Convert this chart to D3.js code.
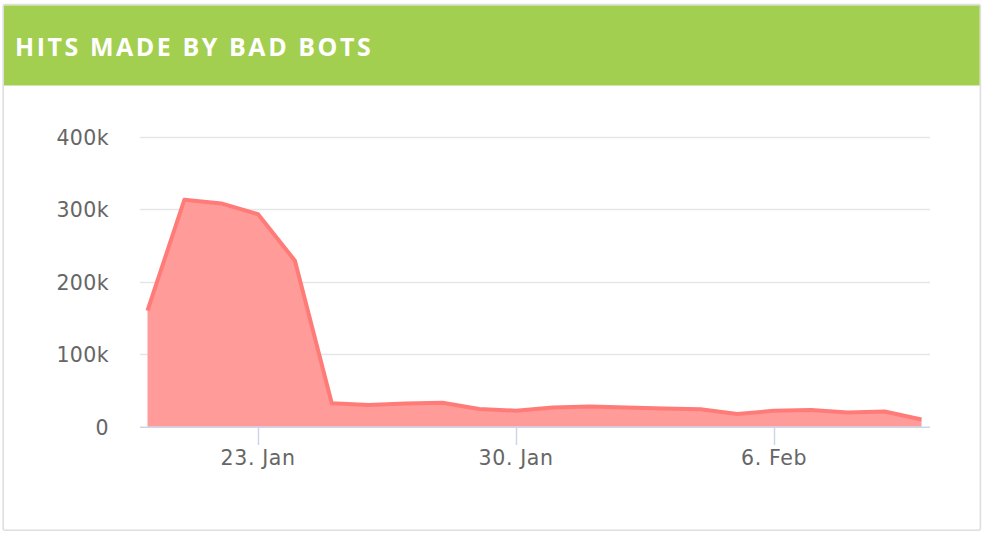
<!DOCTYPE html>
<html>
<head>
<meta charset="utf-8">
<script src="https://cdn.jsdelivr.net/npm/d3@7"></script>
<style>
  html, body { margin: 0; padding: 0; background: #fff; }
  svg { display: block; }
</style>
</head>
<body>
<div id="chart"></div>
<script>
// one value per day, 20 Jan .. 10 Feb
var startDay = "2018-01-20";
var hits = [160000, 313000, 308000, 293000, 229000, 32500, 30000, 32000, 33000, 24500,
            22000, 26500, 28000, 26500, 25000, 24000, 17500, 22000, 23000, 19500, 21000, 10000];
var yTicks = [0, 100000, 200000, 300000, 400000];
var xTickDays = ["2018-01-23", "2018-01-30", "2018-02-06"];
var title = "HITS MADE BY BAD BOTS";

var W = 984, H = 533;
var parse = d3.timeParse("%Y-%m-%d");
var start = parse(startDay);
var data = hits.map(function(v, i) { return { date: d3.timeDay.offset(start, i), value: v }; });

var svg = d3.select("#chart").append("svg").attr("width", W).attr("height", H);

// card + header
svg.append("rect").attr("x", 3.2).attr("y", 4.6).attr("width", 977.2).attr("height", 525.6)
  .attr("rx", 2).attr("fill", "#fff").attr("stroke", "#dedede").attr("stroke-width", 1.6);
svg.append("rect").attr("x", 4).attr("y", 5.5).attr("width", 975.6).attr("height", 80)
  .attr("fill", "#a3cf50");
svg.append("text").attr("x", 15).attr("y", 56)
  .attr("fill", "#fff").attr("font-family", "'Open Sans', sans-serif").attr("font-weight", 700)
  .attr("font-size", 25).attr("letter-spacing", 2.55).text(title);

var x = d3.scaleTime().domain(d3.extent(data, function(d) { return d.date; })).range([147.5, 921.5]);
var y = d3.scaleLinear().domain([0, 400000]).range([426.7, 136.7]);
var plotL = 140, plotR = 930;

// grid
svg.append("g").selectAll("line").data(yTicks.slice(1)).join("line")
  .attr("x1", plotL).attr("x2", plotR)
  .attr("y1", function(d) { return Math.round(y(d)) + 0.5; })
  .attr("y2", function(d) { return Math.round(y(d)) + 0.5; })
  .attr("stroke", "#e6e6e6").attr("stroke-width", 1.5);

// y labels
svg.append("g").selectAll("text").data(yTicks).join("text")
  .attr("x", 109).attr("y", function(d) { return y(d) + 8; })
  .attr("text-anchor", "end").attr("fill", "#666")
  .attr("font-family", "'DejaVu Sans', sans-serif").attr("font-size", 20.5)
  .attr("letter-spacing", 0.4)
  .text(function(d) { return d === 0 ? "0" : (d / 1000) + "k"; });

// area + line
var area = d3.area().x(function(d) { return x(d.date); }).y0(y(0)).y1(function(d) { return y(d.value); });
var line = d3.line().x(function(d) { return x(d.date); }).y(function(d) { return y(d.value); });
svg.append("path").datum(data).attr("d", area).attr("fill", "#ff9c9a");
svg.append("path").datum(data).attr("d", line).attr("fill", "none")
  .attr("stroke", "#ff7b78").attr("stroke-width", 4).attr("stroke-linejoin", "round");

// x axis
svg.append("line").attr("x1", plotL).attr("x2", plotR).attr("y1", 427.3).attr("y2", 427.3)
  .attr("stroke", "#ccd6eb").attr("stroke-width", 1.5);
var xt = xTickDays.map(parse);
svg.append("g").selectAll("line").data(xt).join("line")
  .attr("x1", function(d) { return Math.round(x(d)) + 0.5; })
  .attr("x2", function(d) { return Math.round(x(d)) + 0.5; })
  .attr("y1", 427).attr("y2", 445)
  .attr("stroke", "#ccd6eb").attr("stroke-width", 1.5);
svg.append("g").selectAll("text").data(xt).join("text")
  .attr("x", function(d) { return x(d); }).attr("y", 465)
  .attr("text-anchor", "middle").attr("fill", "#666")
  .attr("font-family", "'DejaVu Sans', sans-serif").attr("font-size", 20.5)
  .attr("letter-spacing", 0.6)
  .text(d3.timeFormat("%-d. %b"));
</script>
</body>
</html>
